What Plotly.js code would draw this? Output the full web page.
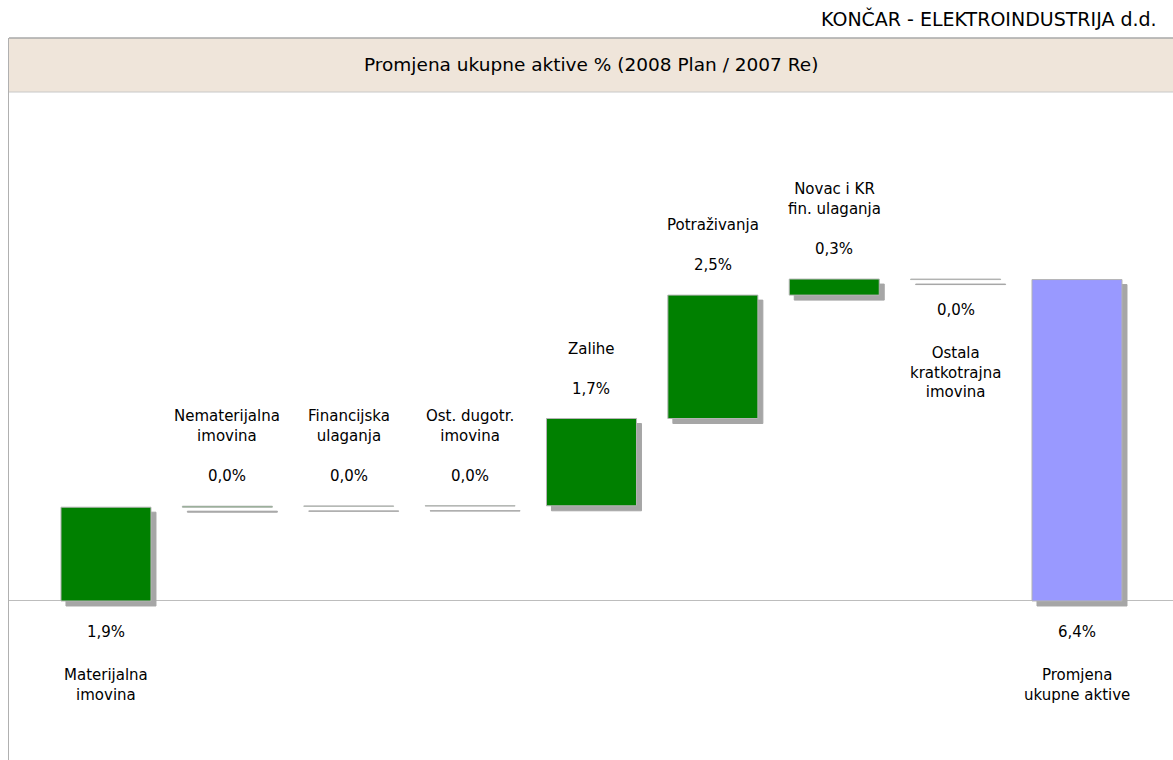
<!DOCTYPE html>
<html>
<head>
<meta charset="utf-8">
<script src="https://cdn.plot.ly/plotly-3.0.1.min.js"></script>
<style>html,body{margin:0;padding:0;background:#fff;}#chart{width:1173px;height:760px;}</style>
</head>
<body>
<div id="chart"></div>
<script>
// ---- data ----
const categories = ["Materijalna imovina", "Nematerijalna imovina", "Financijska ulaganja", "Ost. dugotr. imovina", "Zalihe", "Potraživanja", "Novac i KR fin. ulaganja", "Ostala kratkotrajna imovina", "Promjena ukupne aktive"];
const labelLines = ["Materijalna<br>imovina", "Nematerijalna<br>imovina", "Financijska<br>ulaganja", "Ost. dugotr.<br>imovina", "Zalihe", "Potraživanja", "Novac i KR<br>fin. ulaganja", "Ostala<br>kratkotrajna<br>imovina", "Promjena<br>ukupne aktive"];
const changes = [1.87, 0.02, 0.004, 0.004, 1.74, 2.46, 0.32, -0.01];
const measures = ["relative", "relative", "relative", "relative", "relative", "relative", "relative", "relative", "total"];
const companyName = "KONČAR - ELEKTROINDUSTRIJA d.d.";
const chartTitle = "Promjena ukupne aktive % (2008 Plan / 2007 Re)";

// ---- geometry ----
const W = 1173, H = 760, ML = 9, MT = 38;
const plotW = W - ML, plotH = H - MT;
const xr = [-0.799, 8.791];
const yr = [-3.17, 11.224];
const pxX = plotW / (xr[1] - xr[0]);
const pxY = plotH / (yr[1] - yr[0]);
const barW = 90 / pxX;
const shX = 5 / pxX, shY = 5 / pxY;

const xs = categories.map((c, i) => i);
const yvals = changes.concat([0]);

// cumulative positions
let cum = 0; const starts = [], ends = [];
changes.forEach(v => { starts.push(cum); cum += v; ends.push(cum); });
starts.push(0); ends.push(cum);
const values = changes.concat([cum]);

function fmt(v) {
  let s = (Math.round(v * 10) / 10).toFixed(1);
  if (s === "-0.0") s = "0.0";
  return s.replace('.', ',') + '%';
}

const shadowColor = '#a6a6a6';
const shadow = {
  type: 'waterfall', x: xs, y: yvals, measure: measures,
  base: -shY, width: barW, offset: -barW / 2 + shX,
  connector: {visible: false},
  increasing: {marker: {color: shadowColor, line: {color: shadowColor, width: 1}}},
  decreasing: {marker: {color: shadowColor, line: {color: shadowColor, width: 1}}},
  totals: {marker: {color: shadowColor, line: {color: shadowColor, width: 1}}},
  hoverinfo: 'skip', showlegend: false
};
const main = {
  type: 'waterfall', x: xs, y: yvals, measure: measures,
  width: barW, offset: -barW / 2,
  connector: {visible: false},
  increasing: {marker: {color: '#008000', line: {color: '#b4b4b4', width: 1}}},
  decreasing: {marker: {color: '#008000', line: {color: '#b4b4b4', width: 1}}},
  totals: {marker: {color: '#9999ff', line: {color: '#b4b4b4', width: 1}}},
  textinfo: 'none', showlegend: false
};

const labelFont = {family: '"DejaVu Sans", sans-serif', size: 15, color: '#000'};
const valueFont = {family: '"DejaVu Sans", sans-serif', size: 15, color: '#000'};

const annotations = [];
values.forEach((v, i) => {
  const first = i === 0, total = i === values.length - 1;
  let below, anchorY;
  if (first || total) { below = true; anchorY = 0; }
  else if (changes[i] >= 0) { below = false; anchorY = ends[i]; }
  else { below = true; anchorY = starts[i]; }
  annotations.push({x: i, y: anchorY, xref: 'x', yref: 'y', text: fmt(v), showarrow: false,
    font: valueFont, yanchor: 'middle', yshift: below ? -31 : 30});
  annotations.push({x: i, y: anchorY, xref: 'x', yref: 'y', text: labelLines[i], showarrow: false,
    font: labelFont, yanchor: below ? 'top' : 'bottom', yshift: below ? -63 : 59, align: 'center'});
});
annotations.push({x: 0.5, y: 1 - 27 / plotH, xref: 'paper', yref: 'paper', text: chartTitle, showarrow: false,
  font: {family: '"DejaVu Sans", sans-serif', size: 18.5, color: '#000'}, yanchor: 'middle'});
annotations.push({x: (1159 - ML) / plotW, y: 1 + 19 / plotH, xref: 'paper', yref: 'paper', text: companyName, showarrow: false,
  font: {family: '"DejaVu Sans", sans-serif', size: 19, color: '#000'}, xanchor: 'right', yanchor: 'middle'});

const layout = {
  width: W, height: H,
  margin: {l: ML, r: 0, t: MT, b: 0, pad: 0},
  paper_bgcolor: '#fff', plot_bgcolor: '#fff',
  waterfallmode: 'overlay',
  xaxis: {range: xr, showgrid: false, zeroline: false, showticklabels: false, ticks: '', showline: false, fixedrange: true},
  yaxis: {range: yr, showgrid: false, zeroline: true, zerolinecolor: '#bdbdbd', zerolinewidth: 1,
    showticklabels: false, ticks: '', showline: true, linecolor: '#b0b0b0', linewidth: 1, fixedrange: true},
  shapes: [
    {type: 'rect', xref: 'paper', yref: 'paper', x0: 0, x1: 1, y0: 1 - 54 / plotH, y1: 1,
      fillcolor: '#efe5da', line: {width: 0}, layer: 'below'},
    {type: 'line', xref: 'paper', yref: 'paper', x0: 0, x1: 1, y0: 1, y1: 1, line: {color: '#a8a8a8', width: 1.5}},
    {type: 'line', xref: 'paper', yref: 'paper', x0: 0, x1: 1, y0: 1 - 54 / plotH, y1: 1 - 54 / plotH, line: {color: '#c8c8c8', width: 1}}
  ],
  annotations: annotations,
  showlegend: false
};

Plotly.newPlot('chart', [shadow, main], layout, {displayModeBar: false, staticPlot: true});
</script>
</body>
</html>
